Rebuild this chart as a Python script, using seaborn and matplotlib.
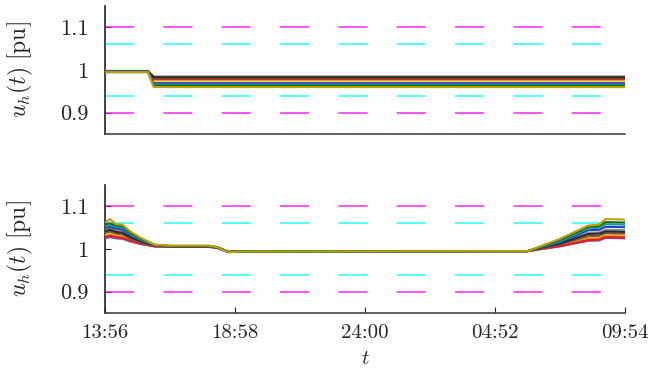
import numpy as np
import pandas as pd
import matplotlib
matplotlib.use("Agg")
import matplotlib.pyplot as plt
import seaborn as sns

# ---------------- data ----------------
series_names = ["s1", "s2", "s3", "s4", "s5", "s6", "s7", "s8", "s9", "s10", "s11"]
series_colors = ["#7a4fa0", "#e8d24a", "#ff8c1a", "#e02020", "#7a5a3a", "#8c8c8c",
                 "#2b2b2b", "#2040c8", "#1a9a9a", "#0a6a2a", "#c0a000"]

# top panel: sample index of key points and values per series
top_t = [0, 19.8, 22.5, 240]
top_start = [0.996, 0.997, 0.996, 0.997, 0.997, 0.998, 0.997, 0.996, 0.996, 0.995, 0.995]
top_end = [0.970, 0.975, 0.977, 0.979, 0.981, 0.985, 0.983, 0.968, 0.966, 0.963, 0.960]

# bottom panel key points (sample index) and values per series
bot_t = [0, 2.3, 5, 8, 12, 17, 23, 30, 48, 52, 57, 62, 195, 210, 223, 228, 231, 240]
bot_vals = [
    [1.025, 1.028, 1.025, 1.024, 1.017, 1.011, 1.006, 1.005, 1.005, 1.002, 0.993, 0.994, 0.995, 1.006, 1.019, 1.020, 1.026, 1.025],
    [1.034, 1.037, 1.033, 1.031, 1.022, 1.014, 1.007, 1.006, 1.006, 1.003, 0.993, 0.994, 0.995, 1.009, 1.026, 1.027, 1.033, 1.032],
    [1.031, 1.034, 1.030, 1.028, 1.020, 1.013, 1.007, 1.006, 1.006, 1.003, 0.993, 0.994, 0.995, 1.008, 1.024, 1.025, 1.030, 1.029],
    [1.028, 1.031, 1.028, 1.026, 1.019, 1.012, 1.006, 1.005, 1.005, 1.002, 0.993, 0.994, 0.995, 1.007, 1.021, 1.022, 1.028, 1.027],
    [1.038, 1.041, 1.036, 1.034, 1.024, 1.015, 1.007, 1.006, 1.006, 1.003, 0.993, 0.994, 0.995, 1.011, 1.030, 1.031, 1.037, 1.036],
    [1.046, 1.049, 1.044, 1.042, 1.029, 1.018, 1.008, 1.006, 1.006, 1.003, 0.993, 0.994, 0.995, 1.014, 1.038, 1.039, 1.045, 1.044],
    [1.042, 1.045, 1.040, 1.038, 1.027, 1.017, 1.008, 1.006, 1.006, 1.003, 0.993, 0.994, 0.995, 1.013, 1.035, 1.036, 1.041, 1.040],
    [1.050, 1.052, 1.048, 1.046, 1.031, 1.020, 1.009, 1.007, 1.007, 1.004, 0.993, 0.994, 0.995, 1.016, 1.044, 1.045, 1.052, 1.051],
    [1.054, 1.056, 1.052, 1.050, 1.034, 1.021, 1.009, 1.007, 1.007, 1.004, 0.993, 0.994, 0.995, 1.018, 1.048, 1.050, 1.058, 1.057],
    [1.058, 1.060, 1.055, 1.054, 1.037, 1.023, 1.010, 1.007, 1.007, 1.004, 0.993, 0.994, 0.995, 1.021, 1.052, 1.054, 1.063, 1.062],
    [1.062, 1.070, 1.058, 1.057, 1.040, 1.025, 1.010, 1.008, 1.008, 1.004, 0.992, 0.994, 0.995, 1.024, 1.055, 1.057, 1.070, 1.069],
]

x_ticks = [0, 60, 120, 180, 240]
x_labels = ["13:56", "18:58", "24:00", "04:52", "09:54"]
y_ticks = [0.9, 1.0, 1.1]
y_labels = ["0.9", "1", "1.1"]
limits_outer = [0.9, 1.1]   # magenta
limits_inner = [0.94, 1.06]  # cyan

# ---------------- long-form tables ----------------
rows_top = []
for name, s, e in zip(series_names, top_start, top_end):
    for t, v in zip(top_t, [s, s, e, e]):
        rows_top.append((name, t, v))
df_top = pd.DataFrame(rows_top, columns=["series", "t", "u"])

rows_bot = []
for name, vals in zip(series_names, bot_vals):
    for t, v in zip(bot_t, vals):
        rows_bot.append((name, t, v))
df_bot = pd.DataFrame(rows_bot, columns=["series", "t", "u"])

# ---------------- style ----------------
sns.set_style("white")
plt.rcParams["font.family"] = ["cmr10", "DejaVu Serif"]
plt.rcParams["mathtext.fontset"] = "cm"
plt.rcParams["lines.scale_dashes"] = False
plt.rcParams["axes.unicode_minus"] = False

fig = plt.figure(figsize=(6.5, 3.74), dpi=100)
ax_top = fig.add_axes([105 / 650, 1 - 134 / 374, 520 / 650, 128 / 374])
ax_bot = fig.add_axes([105 / 650, 1 - 313 / 374, 520 / 650, 128 / 374])

palette = dict(zip(series_names, series_colors))
FS_Y = 16
FS_X = 15
FS_LAB = 17

for ax, df in [(ax_top, df_top), (ax_bot, df_bot)]:
    for v in limits_outer:
        ax.axhline(v, color="#ff00ff", lw=1.1, alpha=0.85, linestyle=(0, (21, 21)), zorder=1)
    for v in limits_inner:
        ax.axhline(v, color="#00ffff", lw=1.1, alpha=0.85, linestyle=(0, (21, 21)), zorder=1)
    sns.lineplot(data=df, x="t", y="u", hue="series", hue_order=series_names,
                 palette=palette, estimator=None, sort=False, lw=1.5,
                 legend=False, ax=ax, zorder=3)
    ax.set_xlim(0, 240)
    ax.set_ylim(0.85, 1.15)
    ax.set_yticks(y_ticks)
    ax.set_yticklabels(y_labels, fontsize=FS_Y)
    ax.set_ylabel(r"$u_h(t)\ [\mathrm{pu}]$", fontsize=FS_LAB, labelpad=18)
    for sp in ["top", "right"]:
        ax.spines[sp].set_visible(False)
    ax.spines["left"].set_color("#222222")
    ax.spines["bottom"].set_color("#444444")
    ax.spines["left"].set_linewidth(1.2)
    ax.spines["bottom"].set_linewidth(1.2)
    ax.tick_params(axis="y", direction="in", length=4, width=0.8, left=True, pad=12)

ax_top.set_xticks([])
ax_top.set_xlabel("")
ax_bot.set_xticks(x_ticks)
ax_bot.set_xticklabels(x_labels, fontsize=FS_X)
ax_bot.tick_params(axis="x", direction="in", length=4, width=0.8, bottom=True, pad=8)
ax_bot.set_xlabel(r"$t$", fontsize=FS_X, labelpad=6)

fig.savefig("out.png", dpi=100)
